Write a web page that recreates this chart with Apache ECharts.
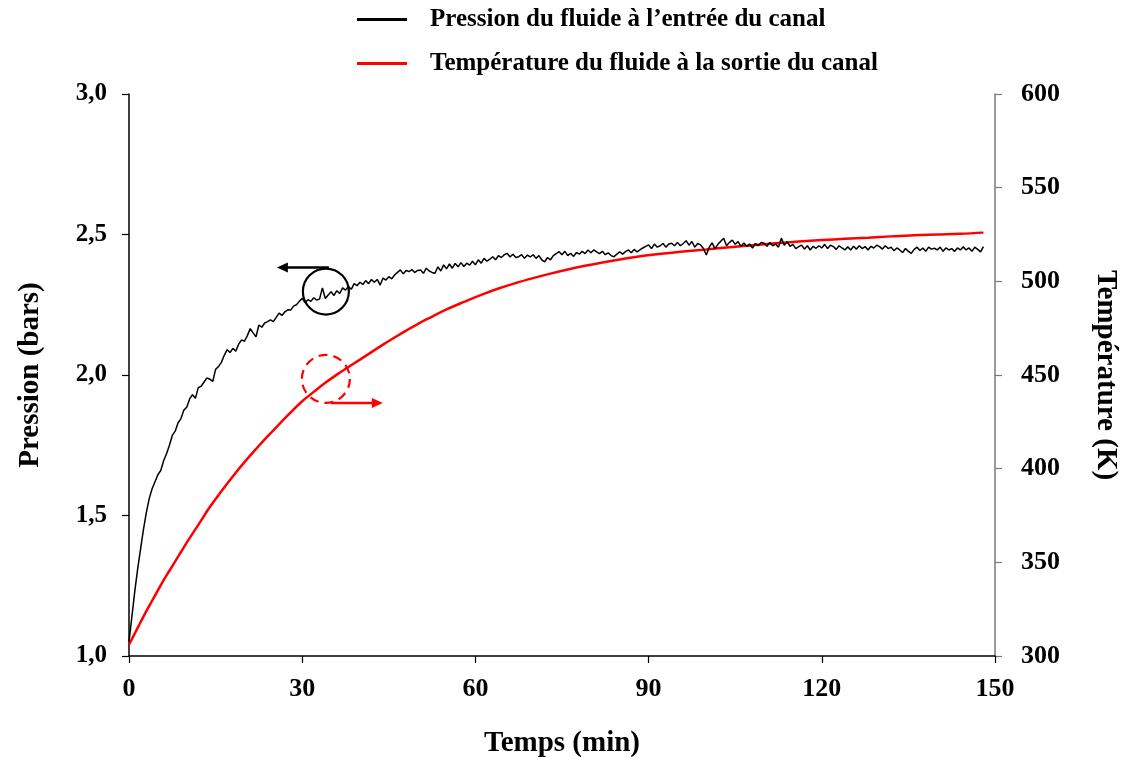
<!DOCTYPE html>
<html>
<head>
<meta charset="utf-8">
<script src="https://cdn.jsdelivr.net/npm/echarts@6/dist/echarts.min.js"></script>
<style>
html,body{margin:0;padding:0;background:#fff;overflow:hidden;}
#main{width:1124px;height:758px;}
</style>
</head>
<body>
<div id="main"></div>
<script>
// ---- data ----
const seriesNames = ["Pression du fluide à l\u2019entrée du canal", "Température du fluide à la sortie du canal"];
const xTicks = [0, 30, 60, 90, 120, 150];
const pressureTicks = [1.0, 1.5, 2.0, 2.5, 3.0];
const temperatureTicks = [300, 350, 400, 450, 500, 550, 600];

// pressure sampled every 0.5 min starting at 0 min
const pressureStartMin = 0;
const pressureStepMin = 0.5;
const pressureBars = [
  1.05, 1.14, 1.23, 1.31, 1.38, 1.45, 1.51, 1.56, 1.595, 1.62,
  1.645, 1.66, 1.695, 1.72, 1.75, 1.785, 1.80, 1.83, 1.845, 1.875,
  1.885, 1.915, 1.93, 1.917, 1.955, 1.96, 1.975, 1.99, 1.985, 1.977,
  2.02, 2.03, 2.045, 2.07, 2.09, 2.08, 2.095, 2.085, 2.11, 2.125,
  2.12, 2.14, 2.165, 2.15, 2.136, 2.178, 2.17, 2.185, 2.19, 2.196,
  2.19, 2.205, 2.22, 2.212, 2.225, 2.232, 2.231, 2.245, 2.25, 2.262,
  2.273, 2.258, 2.268, 2.262, 2.275, 2.267, 2.27, 2.31, 2.272, 2.285,
  2.296, 2.283, 2.30, 2.29, 2.31, 2.302, 2.315, 2.305, 2.325, 2.318,
  2.33, 2.322, 2.336, 2.325, 2.34, 2.33, 2.34, 2.32, 2.345, 2.338,
  2.35, 2.342, 2.356, 2.365, 2.374, 2.36, 2.372, 2.368, 2.375, 2.365,
  2.372, 2.374, 2.362, 2.38, 2.37, 2.365, 2.362, 2.385, 2.37, 2.392,
  2.378, 2.395, 2.38, 2.397, 2.385, 2.40, 2.386, 2.398, 2.391, 2.405,
  2.392, 2.41, 2.398, 2.415, 2.405, 2.412, 2.421, 2.41, 2.425, 2.418,
  2.428, 2.433, 2.42, 2.43, 2.418, 2.421, 2.428, 2.415, 2.427, 2.42,
  2.428, 2.415, 2.425, 2.41, 2.403, 2.418, 2.41, 2.425, 2.432, 2.439,
  2.428, 2.44, 2.425, 2.433, 2.422, 2.436, 2.43, 2.44, 2.432, 2.445,
  2.435, 2.445, 2.438, 2.432, 2.44, 2.428, 2.435, 2.425, 2.421, 2.43,
  2.438, 2.43, 2.439, 2.445, 2.435, 2.447, 2.438, 2.445, 2.452, 2.458,
  2.463, 2.45, 2.466, 2.455, 2.46, 2.468, 2.455, 2.466, 2.469, 2.46,
  2.472, 2.46, 2.468, 2.478, 2.462, 2.475, 2.455, 2.468, 2.463, 2.45,
  2.427, 2.455, 2.47, 2.45, 2.465, 2.476, 2.487, 2.46, 2.472, 2.48,
  2.465, 2.475, 2.458, 2.47, 2.457, 2.466, 2.452, 2.468, 2.46, 2.472,
  2.469, 2.458, 2.472, 2.46, 2.466, 2.455, 2.487, 2.462, 2.475, 2.458,
  2.465, 2.45, 2.457, 2.462, 2.448, 2.46, 2.445, 2.458, 2.451, 2.46,
  2.452, 2.465, 2.45, 2.462, 2.457, 2.447, 2.46, 2.452, 2.445, 2.456,
  2.445, 2.458, 2.448, 2.46, 2.45, 2.457, 2.445, 2.458, 2.452, 2.462,
  2.457, 2.448, 2.46, 2.45, 2.455, 2.442, 2.452, 2.445, 2.436, 2.45,
  2.44, 2.433, 2.447, 2.455, 2.443, 2.452, 2.44, 2.455, 2.448, 2.451,
  2.445, 2.455, 2.44, 2.452, 2.445, 2.45, 2.44, 2.452, 2.445, 2.456,
  2.445, 2.452, 2.44, 2.455, 2.447, 2.438, 2.457
];

const temperatureTimesMin = [0, 1, 2, 3, 4, 5, 6, 7, 8, 9, 10, 12, 14, 16, 18, 20, 22, 24, 26, 28, 30, 32, 34, 36, 38, 40, 42, 44, 46, 48, 50, 52, 55, 58, 61, 64, 67, 70, 73, 76, 79, 82, 85, 88, 91, 94, 97, 100, 104, 108, 112, 116, 120, 124, 128, 132, 136, 140, 144, 148];
const temperatureK = [306, 312, 318, 324, 329.5, 335, 340.5, 345.5, 350.5, 355.5, 360.5, 370, 379.5, 388, 396, 403.5, 410.5, 417.2, 423.7, 430, 436, 441, 445.8, 450.2, 454.3, 458.2, 462.2, 466.2, 470, 473.7, 477.2, 480.4, 485, 489, 492.8, 496.2, 499.1, 501.7, 504.1, 506.3, 508.3, 510.1, 511.7, 513.1, 514.3, 515.3, 516.2, 517, 518.2, 519.3, 520.3, 521.2, 522, 522.7, 523.3, 524, 524.6, 525, 525.4, 526];

// annotation anchors (data units)
const blackCircleCenter = [34.1, 2.297];   // [min, bars]
const redCircleCenter = [34.1, 447.9];     // [min, K]

// ---- build ----
const pressureData = pressureBars.map((v, i) => [pressureStartMin + i * pressureStepMin, v]);
const temperatureData = temperatureTimesMin.map((t, i) => [t, temperatureK[i]]);

const FONT = '"Liberation Serif", "Times New Roman", serif';
const chart = echarts.init(document.getElementById('main'), null, {renderer: 'canvas', width: 1124, height: 758});

const option = {
  backgroundColor: '#ffffff',
  animation: false,
  textStyle: {fontFamily: FONT},
  grid: {left: 129, right: 129, top: 94, bottom: 102, containLabel: false, outerBoundsMode: 'none'},
  legend: {
    orient: 'vertical',
    left: 357,
    top: 7,
    padding: 0,
    icon: 'rect',
    itemWidth: 50,
    itemHeight: 3,
    itemGap: 19,
    data: seriesNames,
    textStyle: {fontFamily: FONT, fontWeight: 'bold', fontSize: 25, color: '#000', padding: [0, 0, 0, 18]}
  },
  xAxis: {
    type: 'value',
    min: xTicks[0], max: xTicks[xTicks.length - 1], interval: 30,
    name: 'Temps (min)', nameLocation: 'middle', nameGap: 73,
    nameTextStyle: {fontFamily: FONT, fontWeight: 'bold', fontSize: 29, color: '#000'},
    axisLine: {onZero: false, lineStyle: {color: '#000', width: 1.5}},
    axisTick: {show: true, inside: false, length: 7, lineStyle: {color: '#000', width: 1.2}},
    axisLabel: {margin: 20, fontFamily: FONT, fontWeight: 'bold', fontSize: 26, color: '#000'},
    splitLine: {show: false}
  },
  yAxis: [
    {
      type: 'value', position: 'left',
      min: pressureTicks[0], max: pressureTicks[pressureTicks.length - 1], interval: 0.5,
      name: 'Pression (bars)', nameLocation: 'middle', nameGap: 84, nameRotate: 90,
      nameTextStyle: {fontFamily: FONT, fontWeight: 'bold', fontSize: 29, color: '#000'},
      axisLine: {show: true, lineStyle: {color: '#000', width: 1.5}},
      axisTick: {show: true, inside: false, length: 7, lineStyle: {color: '#000', width: 1.2}},
      axisLabel: {margin: 22, fontFamily: FONT, fontWeight: 'bold', fontSize: 25, color: '#000',
        formatter: v => v.toFixed(1).replace('.', ',')},
      splitLine: {show: false}
    },
    {
      type: 'value', position: 'right',
      min: temperatureTicks[0], max: temperatureTicks[temperatureTicks.length - 1], interval: 50,
      name: 'Température (K)', nameLocation: 'middle', nameGap: 96, nameRotate: -90,
      nameTextStyle: {fontFamily: FONT, fontWeight: 'bold', fontSize: 29, color: '#000'},
      axisLine: {show: true, lineStyle: {color: '#7a7a7a', width: 1.5}},
      axisTick: {show: true, inside: false, length: 7, lineStyle: {color: '#7a7a7a', width: 1.2}},
      axisLabel: {margin: 26, fontFamily: FONT, fontWeight: 'bold', fontSize: 26, color: '#000'},
      splitLine: {show: false}
    }
  ],
  series: [
    {
      name: seriesNames[0], type: 'line', yAxisIndex: 0, data: pressureData,
      symbol: 'none', smooth: false,
      lineStyle: {color: '#000', width: 1.5}, itemStyle: {color: '#000'}, z: 3
    },
    {
      name: seriesNames[1], type: 'line', yAxisIndex: 1, data: temperatureData,
      symbol: 'none', smooth: 0.4,
      lineStyle: {color: '#ff0000', width: 2.5}, itemStyle: {color: '#ff0000'}, z: 2
    }
  ]
};
chart.setOption(option);

// annotations positioned from data coordinates
const bc = chart.convertToPixel({xAxisIndex: 0, yAxisIndex: 0}, blackCircleCenter);
const rc = chart.convertToPixel({xAxisIndex: 0, yAxisIndex: 1}, redCircleCenter);
const R = 23;
function arrowHead(tipX, tipY, dir, color) {
  const L = 11, W = 5;
  return {
    type: 'polygon', z: 10,
    shape: {points: [[tipX, tipY], [tipX - dir * L, tipY - W], [tipX - dir * L, tipY + W]]},
    style: {fill: color}
  };
}
chart.setOption({
  graphic: [
    {type: 'circle', z: 10, shape: {cx: bc[0], cy: bc[1], r: R},
      style: {fill: 'none', stroke: '#000', lineWidth: 2.2}},
    {type: 'line', z: 10, shape: {x1: bc[0] + 3, y1: bc[1] - R - 1, x2: bc[0] - 40, y2: bc[1] - R - 1},
      style: {stroke: '#000', lineWidth: 2.5}},
    arrowHead(bc[0] - 49, bc[1] - R - 1, -1, '#000'),
    {type: 'circle', z: 10, shape: {cx: rc[0], cy: rc[1], r: R + 1},
      style: {fill: 'none', stroke: '#ff0000', lineWidth: 2.2, lineDash: [9, 6]}},
    {type: 'line', z: 10, shape: {x1: rc[0] + 5, y1: rc[1] + R + 1, x2: rc[0] + 48, y2: rc[1] + R + 1},
      style: {stroke: '#ff0000', lineWidth: 2.5}},
    arrowHead(rc[0] + 57, rc[1] + R + 1, 1, '#ff0000')
  ]
});
</script>
</body>
</html>
